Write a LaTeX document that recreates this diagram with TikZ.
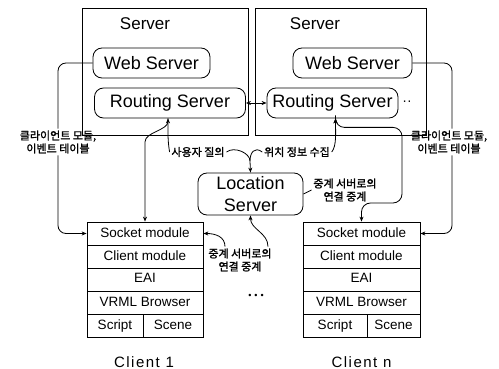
\documentclass[tikz,border=0pt]{standalone}
\usepackage{fontspec}
\setmainfont{Liberation Sans}
\newfontfamily\kr{Noto Sans CJK KR}[AutoFakeBold=1.5]
\newfontfamily\spaced{Liberation Sans}[LetterSpace=10]
\usetikzlibrary{arrows.meta}
\begin{document}
\begin{tikzpicture}[x=1pt,y=-1pt, line width=0.8pt,
  >={Stealth[length=5pt,width=4pt]},
  srvbox/.style={draw, inner sep=0pt},
  rbox/.style={draw, rounded corners=9pt, inner sep=0pt, minimum height=30pt, font=\fontsize{18}{20}\selectfont},
  rowbox/.style={draw, inner sep=0pt, minimum height=23pt, text height=10pt, text depth=3pt, font=\fontsize{13.5}{15}\selectfont},
  lab/.style={inner sep=1.5pt, align=center, font=\kr\bfseries\fontsize{11}{13}\selectfont},
  hdr/.style={font=\fontsize{17}{19}\selectfont, inner sep=0pt},
  clientlbl/.style={font=\spaced\fontsize{15}{17}\selectfont, inner sep=0pt}
]
\useasboundingbox (0,0) rectangle (499,369);

% server boxes
\node[srvbox, minimum width=166pt, minimum height=127pt] (srv1) at (165,71.5) {};
\node[srvbox, minimum width=171pt, minimum height=127pt] (srv2) at (340.5,71.5) {};
\node[hdr] (h1) at (145,24) {Server};
\node[hdr] (h2) at (315,24) {Server};
\node[rbox, minimum width=117pt] (web1) at (151.5,63) {Web Server};
\node[rbox, minimum width=151pt] (rout1) at (170,103) {Routing Server};
\node[rbox, minimum width=119pt] (web2) at (352.5,63) {Web Server};
\node[rbox, minimum width=131pt] (rout2) at (332.5,103) {Routing Server};
\node[font=\fontsize{14}{14}\selectfont, inner sep=0pt] (more) at (407,103) {··};

% location server
\node[rbox, minimum width=105pt, minimum height=42pt, align=center, font=\fontsize{18}{22}\selectfont] (loc) at (250.5,194) {Location\\Server};

% client 1
\node[rowbox, minimum width=116pt] (c1sock) at (145,233.5) {Socket module};
\node[rowbox, minimum width=116pt] (c1cli) at (145,256.5) {Client module};
\node[rowbox, minimum width=116pt] (c1eai) at (145,279.5) {EAI};
\node[rowbox, minimum width=116pt] (c1vrml) at (145,302.5) {VRML Browser};
\node[rowbox, minimum width=56pt] (c1scr) at (115,325.5) {Script};
\node[rowbox, minimum width=60pt] (c1scn) at (173,325.5) {Scene};
\node[clientlbl] (c1lbl) at (144,362) {Client 1};

% client n
\node[rowbox, minimum width=117pt] (cnsock) at (361.5,233.5) {Socket module};
\node[rowbox, minimum width=117pt] (cncli) at (361.5,256.5) {Client module};
\node[rowbox, minimum width=117pt] (cneai) at (361.5,279.5) {EAI};
\node[rowbox, minimum width=117pt] (cnvrml) at (361.5,302.5) {VRML Browser};
\node[rowbox, minimum width=64pt] (cnscr) at (335,325.5) {Script};
\node[rowbox, minimum width=53pt] (cnscn) at (393.5,325.5) {Scene};
\node[clientlbl] (cnlbl) at (361.5,362) {Client n};

% labels
\node[lab] (lblL) at (58,142) {클라이언트 모듈,\\이벤트 테이블};
\node[lab] (lblR) at (449,142) {클라이언트 모듈,\\이벤트 테이블};
\node[lab] (lblQ) at (198,152) {사용자 질의};
\node[lab] (lblC) at (297,152) {위치 정보 수집};
\node[lab] (lblRR) at (345,190) {중계 서버로의\\연결 중계};
\node[lab] (lblRL) at (240,260) {중계 서버로의\\연결 중계};
\node[font=\fontsize{9}{10}\selectfont, inner sep=0pt] (dots) at (256,296) {•\,\,•\,\,•};

% web server -> socket module
\draw[rounded corners=8pt] (web1.west) -| (lblL.north);
\draw[->, rounded corners=8pt] (lblL.south) |- (c1sock.west);
\draw[rounded corners=8pt] (web2.east) -| ([xshift=3pt]lblR.north);
\draw[->, rounded corners=8pt] ([xshift=3pt]lblR.south) |- (cnsock.east);

% routing servers
\draw[<->] (rout1.east) -- (rout2.west);

% routing 1 <-> client 1
\draw[<->] ([xshift=-2pt]rout1.south) .. controls +(0,12) and +(0,-10) .. (c1sock.north |- 0,142) -- (c1sock.north);

% queries to location server
\draw (lblQ.west) .. controls +(-2,-12) and +(0,14) .. ([xshift=-2pt]rout1.south);
\coordinate (jn) at (250,161);
\draw (lblQ.east) .. controls +(8,-6) and +(0,-8) .. (jn);
\draw (lblC.west) .. controls +(-8,-6) and +(0,-8) .. (jn);
\draw[->] (jn) -- (loc.north);
\draw[->] (lblC.east) .. controls +(5,-6) and +(0,14) .. ([xshift=3pt]rout2.south);

% routing n <-> client n
\draw[<->, rounded corners=9pt] ([xshift=3pt]rout2.south) -- ++(0,9) -| (402,203) -| (cnsock.north);
\draw (loc.east) -- (lblRR.west);

% location <-> client 1
\draw[->] ([xshift=-15pt]lblRL.north) .. controls +(0,-10) and +(12,0) .. (c1sock.east);
\draw[->] ([xshift=28pt]lblRL.north) .. controls +(0,-14) and +(0,14) .. (loc.south);
\end{tikzpicture}
\end{document}
